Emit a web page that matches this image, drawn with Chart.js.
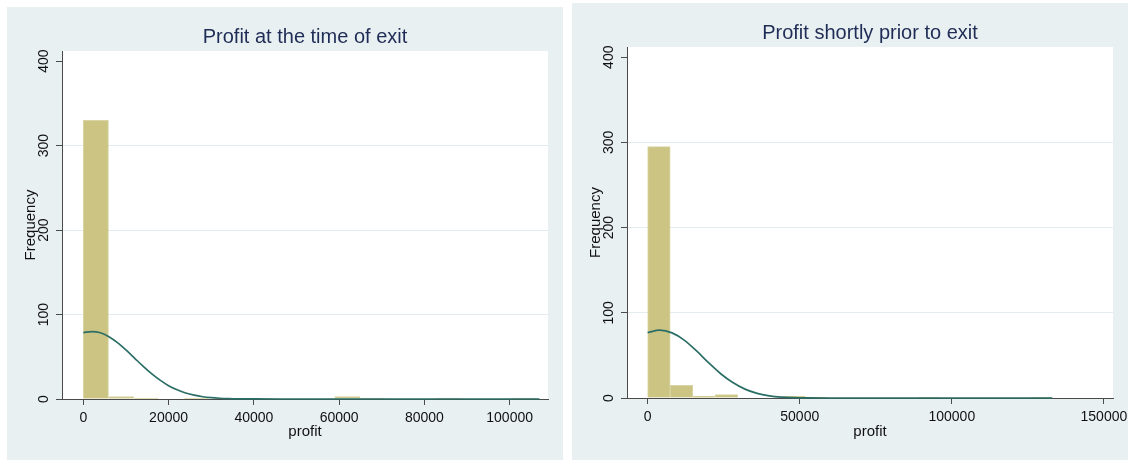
<!DOCTYPE html>
<html>
<head>
<meta charset="utf-8">
<script src="https://cdn.jsdelivr.net/npm/chart.js@4.4.1/dist/chart.umd.min.js"></script>
<style>
  html, body { margin: 0; padding: 0; background: #fff; }
  body { width: 1133px; height: 460px; position: relative; overflow: hidden; }
  .panel { position: absolute; background: #e8f0f2; }
  #panelLeft { left: 7px; top: 7px; width: 556px; height: 453px; }
  #panelRight { left: 572px; top: 3px; width: 556px; height: 457px; }
</style>
</head>
<body>
<div class="panel" id="panelLeft"><canvas id="chartLeft"></canvas></div>
<div class="panel" id="panelRight"><canvas id="chartRight"></canvas></div>
<script>
// ===== data =====
const yTicks = [0, 100, 200, 300, 400];

// left: profit at the time of exit (bins ~5900 wide)
const leftBinCenters = [2950, 8850, 14750, 20650, 26550, 32450, 38350, 44250, 50150,
  56050, 61950, 67850, 73750, 79650, 85550, 91450, 97350, 103250];
const leftCounts = [330, 3, 1, 0, 1, 0, 0, 0, 0, 0, 3, 1, 0, 0, 1, 0, 0, 1];
const leftCurveX = [0, 2000, 4000, 6000, 8000, 10000, 12000, 14000, 16000, 18000, 20000,
  22000, 24000, 26000, 28000, 30000, 32000, 34000, 36000, 40000, 50000, 107000];
const leftCurveY = [78.6, 79.8, 78.4, 73.8, 66.8, 58.1, 48.5, 38.9, 30, 22.3, 15.8,
  10.9, 7.1, 4.5, 2.7, 1.6, 0.9, 0.5, 0.2, 0.05, 0, 0];
const leftXTicks = [0, 20000, 40000, 60000, 80000, 100000];

// right: profit shortly prior to exit (bins ~7400 wide)
const rightBinCenters = [3700, 11100, 18500, 25900, 33300, 40700, 48100, 55500, 62900,
  70300, 77700, 85100, 92500, 99900, 107300, 114700, 122100, 129500];
const rightCounts = [295, 15, 2, 4, 0, 0, 2, 1, 0, 0, 0, 0, 1, 0, 0, 0, 0, 1];
const rightCurveX = [0, 4000, 8000, 12000, 16000, 20000, 24000, 28000, 32000, 36000,
  40000, 44000, 48000, 52000, 60000, 133000];
const rightCurveY = [76.8, 79.6, 76.4, 68, 55.5, 41.5, 28.5, 18.2, 10.4, 5.4,
  2.6, 1.1, 0.45, 0.15, 0, 0];
const rightXTicks = [0, 50000, 100000, 150000];

// ===== style =====
const COLORS = {
  bar: '#cbc483',
  barEdge: '#d9d4a4',
  curve: '#2b6e66',
  axis: '#4a4a4a',
  grid: '#e3ecef',
  title: '#1f2c55',
  text: '#111',
};
const FONT = "'Liberation Sans', Arial, sans-serif";

// white plot region
const plotBg = {
  id: 'plotBg',
  beforeDraw(chart) {
    const a = chart.chartArea;
    const ctx = chart.ctx;
    ctx.save();
    ctx.fillStyle = '#ffffff';
    ctx.fillRect(a.left, a.top, a.right - a.left, a.bottom - a.top);
    ctx.restore();
  }
};

// keep tick labels from pushing the plot edges in
function noPad(s) {
  s.paddingLeft = 0;
  s.paddingRight = 0;
  s.paddingTop = 0;
  s.paddingBottom = 0;
}

function makeHist(id, cfg) {
  const bars = cfg.centers.map((x, i) => ({ x: x, y: cfg.counts[i] }));
  const curve = cfg.curveX.map((x, i) => ({ x: x, y: cfg.curveY[i] }));
  return new Chart(document.getElementById(id), {
    type: 'bar',
    data: {
      datasets: [
        {
          type: 'line',
          data: curve,
          borderColor: COLORS.curve,
          borderWidth: 1.7,
          pointRadius: 0,
          cubicInterpolationMode: 'monotone',
          fill: false,
          clip: false,
          order: 0,
        },
        {
          data: bars,
          backgroundColor: COLORS.bar,
          borderColor: COLORS.barEdge,
          borderWidth: 1,
          barPercentage: 1,
          categoryPercentage: 1,
          order: 1,
        }
      ]
    },
    options: {
      responsive: true,
      maintainAspectRatio: false,
      animation: false,
      layout: { padding: { left: 0, right: 15, top: 0, bottom: 0 } },
      plugins: {
        legend: { display: false },
        tooltip: { enabled: false },
        title: {
          display: true,
          text: cfg.title,
          fullSize: false,
          color: COLORS.title,
          font: { family: FONT, size: 20, weight: 'normal', lineHeight: 1.2 },
          padding: { top: 18, bottom: 2 },
        }
      },
      scales: {
        x: {
          type: 'linear',
          min: cfg.xMin,
          max: cfg.xMax,
          offset: false,
          afterBuildTicks: (s) => { s.ticks = cfg.xTicks.map(v => ({ value: v })); },
          afterFit: (s) => { s.height = cfg.axisHeight; noPad(s); },
          grid: { display: true, drawOnChartArea: false, offset: false, tickLength: 6, tickColor: COLORS.axis },
          border: { display: true, color: COLORS.axis, width: 1 },
          ticks: {
            color: COLORS.text,
            padding: 5,
            maxRotation: 0,
            font: { family: FONT, size: 14 },
            callback: (v) => String(v),
          },
          title: {
            display: true,
            text: 'profit',
            color: COLORS.text,
            font: { family: FONT, size: 15 },
            padding: { top: 0, bottom: 19 },
          }
        },
        y: {
          min: 0,
          max: 412,
          afterBuildTicks: (s) => { s.ticks = yTicks.map(v => ({ value: v })); },
          afterFit: (s) => { s.width = 55; noPad(s); },
          grid: {
            color: (c) => (c.tick && c.tick.value > 0 && c.tick.value < 400) ? COLORS.grid : 'rgba(0,0,0,0)',
            tickColor: COLORS.axis,
            tickLength: 6,
          },
          border: { display: true, color: COLORS.axis, width: 1 },
          ticks: {
            color: COLORS.text,
            padding: 0,
            minRotation: 90,
            maxRotation: 90,
            crossAlign: 'center',
            font: { family: FONT, size: 14 },
            callback: (v) => String(v),
          },
          title: {
            display: true,
            text: 'Frequency',
            color: COLORS.text,
            font: { family: FONT, size: 15 },
            padding: { top: 15, bottom: 0 },
          }
        }
      }
    },
    plugins: [plotBg]
  });
}

makeHist('chartLeft', {
  title: 'Profit at the time of exit',
  centers: leftBinCenters,
  counts: leftCounts,
  curveX: leftCurveX,
  curveY: leftCurveY,
  xTicks: leftXTicks,
  xMin: -5000,
  xMax: 109000,
  axisHeight: 61,
});

makeHist('chartRight', {
  title: 'Profit shortly prior to exit',
  centers: rightBinCenters,
  counts: rightCounts,
  curveX: rightCurveX,
  curveY: rightCurveY,
  xTicks: rightXTicks,
  xMin: -6800,
  xMax: 153000,
  axisHeight: 62,
});
</script>
</body>
</html>
